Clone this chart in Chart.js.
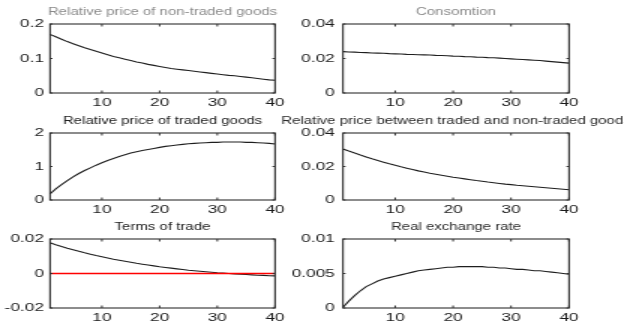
<!DOCTYPE html>
<html>
<head>
<meta charset="utf-8">
<script src="https://cdn.jsdelivr.net/npm/chart.js@4.4.1/dist/chart.umd.min.js"></script>
<style>
  html, body { margin: 0; padding: 0; background: #fff; }
  #stage { position: relative; width: 624px; height: 326px; overflow: hidden; background: #fff; }
  .panel { position: absolute; left: 0; top: 0; width: 416px; height: 326px;
           transform: scaleX(1.5); transform-origin: 0 0; }
  .panel canvas { display: block; }
</style>
</head>
<body>
<div id="stage"></div>
<script>
// Horizon (quarters after the shock)
const periods = Array.from({ length: 40 }, (_, i) => i + 1);
const xTicks = [10, 20, 30, 40];

// Impulse responses
const nonTradedPrice = [0.170, 0.163, 0.156, 0.149, 0.143, 0.137, 0.131, 0.126, 0.121, 0.116,
  0.111, 0.106, 0.102, 0.098, 0.094, 0.090, 0.087, 0.083, 0.080, 0.077,
  0.074, 0.071, 0.069, 0.067, 0.065, 0.063, 0.061, 0.059, 0.057, 0.055,
  0.053, 0.051, 0.050, 0.048, 0.046, 0.044, 0.042, 0.040, 0.038, 0.037];

const consumption = [0.0240, 0.0238, 0.0237, 0.0235, 0.0234, 0.0232, 0.0231, 0.0230, 0.0228, 0.0227,
  0.0226, 0.0224, 0.0223, 0.0222, 0.0221, 0.0220, 0.0218, 0.0217, 0.0216, 0.0214,
  0.0213, 0.0211, 0.0210, 0.0208, 0.0207, 0.0205, 0.0204, 0.0202, 0.0200, 0.0198,
  0.0196, 0.0194, 0.0192, 0.0190, 0.0188, 0.0185, 0.0182, 0.0179, 0.0176, 0.0173];

const tradedPrice = [0.18, 0.33, 0.46, 0.58, 0.69, 0.79, 0.88, 0.96, 1.04, 1.11,
  1.18, 1.24, 1.30, 1.35, 1.40, 1.44, 1.48, 1.51, 1.54, 1.57,
  1.60, 1.62, 1.64, 1.66, 1.68, 1.69, 1.70, 1.71, 1.72, 1.72,
  1.73, 1.73, 1.73, 1.73, 1.72, 1.72, 1.71, 1.70, 1.69, 1.67];

const relativePrice = [0.0305, 0.0292, 0.0280, 0.0268, 0.0257, 0.0246, 0.0236, 0.0226, 0.0216, 0.0207,
  0.0198, 0.0190, 0.0182, 0.0174, 0.0167, 0.0160, 0.0154, 0.0148, 0.0142, 0.0136,
  0.0131, 0.0126, 0.0121, 0.0116, 0.0112, 0.0107, 0.0103, 0.0099, 0.0095, 0.0092,
  0.0088, 0.0085, 0.0082, 0.0079, 0.0076, 0.0073, 0.0070, 0.0067, 0.0064, 0.0061];

const termsOfTrade = [0.0178, 0.0167, 0.0157, 0.0147, 0.0138, 0.0129, 0.0120, 0.0112, 0.0104, 0.0097,
  0.0090, 0.0083, 0.0077, 0.0071, 0.0065, 0.0059, 0.0054, 0.0049, 0.0044, 0.0039,
  0.0035, 0.0031, 0.0027, 0.0023, 0.0019, 0.0016, 0.0013, 0.0010, 0.0007, 0.0004,
  0.0002, 0.0000, -0.0002, -0.0004, -0.0006, -0.0008, -0.0010, -0.0011, -0.0013, -0.0014];

const realExchangeRate = [0.0001, 0.0010, 0.0018, 0.0025, 0.0031, 0.0035, 0.0039, 0.0042, 0.0044, 0.0046,
  0.0048, 0.0050, 0.0052, 0.0054, 0.0055, 0.0056, 0.0057, 0.0058, 0.0059, 0.0059,
  0.0060, 0.0060, 0.0060, 0.0060, 0.0060, 0.0059, 0.0059, 0.0058, 0.0058, 0.0057,
  0.0056, 0.0056, 0.0055, 0.0054, 0.0054, 0.0053, 0.0052, 0.0051, 0.0050, 0.0049];

// Zero reference for the terms of trade panel
const zeroLevel = [0, 0];

// Y-axis tick labels per panel
const ticksNonTraded = [0, 0.1, 0.2];
const ticksConsumption = [0, 0.02, 0.04];
const ticksTraded = [0, 1, 2];
const ticksRelative = [0, 0.02, 0.04];
const ticksTerms = [-0.02, 0, 0.02];
const ticksRer = [0, 0.005, 0.01];

const titles = [
  'Relative price of non-traded goods',
  'Consomtion',
  'Relative price of traded goods',
  'Relative price between traded and non-traded goods',
  'Terms of trade',
  'Real exchange rate'
];

// Panel frames in canvas units (canvas is stretched 1.5x horizontally on screen)
const colLeft = [33.33, 228.67];
const colRight = [183.33, 379.33];
const colAxisW = [33.33, 60];
const colLabelGap = [4, 5.5];
const rowTop = [24, 133, 239];
const rowBottom = [93, 200, 308];
const X_AXIS_H = 16;
const CANVAS_W = 416;
const CANVAS_H = 326;

const FONT_FAMILY = '"Liberation Sans", Arial, Helvetica, sans-serif';

// Frame box, inward ticks and title
const framePlugin = {
  id: 'matlabFrame',
  afterDatasetsDraw(chart, args, opts) {
    const { ctx, chartArea: a, scales } = chart;
    ctx.save();
    ctx.strokeStyle = '#1a1a1a';
    ctx.lineWidth = 1;
    ctx.strokeRect(a.left, a.top, a.right - a.left, a.bottom - a.top);
    ctx.strokeStyle = '#333';
    ctx.beginPath();
    scales.x.ticks.forEach(t => {
      const px = scales.x.getPixelForValue(t.value);
      ctx.moveTo(px, a.bottom); ctx.lineTo(px, a.bottom - 2.5);
      ctx.moveTo(px, a.top); ctx.lineTo(px, a.top + 2.5);
    });
    scales.y.ticks.forEach(t => {
      const py = scales.y.getPixelForValue(t.value);
      ctx.moveTo(a.left, py); ctx.lineTo(a.left + 1.7, py);
      ctx.moveTo(a.right, py); ctx.lineTo(a.right - 1.7, py);
    });
    ctx.stroke();
    ctx.fillStyle = opts.color;
    ctx.font = '10px ' + FONT_FAMILY;
    ctx.textAlign = 'center';
    ctx.textBaseline = 'middle';
    ctx.fillText(opts.text, (a.left + a.right) / 2, a.top - 12);
    ctx.restore();
  }
};

function makePanel(idx, values, yTicks, titleColor, zeroLine) {
  const col = idx % 2, row = Math.floor(idx / 2);
  const wrap = document.createElement('div');
  wrap.className = 'panel';
  const canvas = document.createElement('canvas');
  canvas.width = CANVAS_W;
  canvas.height = CANVAS_H;
  wrap.appendChild(canvas);
  document.getElementById('stage').appendChild(wrap);

  const datasets = [{
    label: 'response',
    data: periods.map((p, i) => ({ x: p, y: values[i] })),
    borderColor: '#1e1e1e', borderWidth: 1.1, pointRadius: 0, tension: 0, order: 2
  }];
  if (zeroLine) {
    datasets.push({
      label: 'zero',
      data: [{ x: periods[0], y: zeroLevel[0] }, { x: periods[periods.length - 1], y: zeroLevel[1] }],
      borderColor: '#ff0000', backgroundColor: '#ff0000',
      borderWidth: 1.4, pointRadius: 0, tension: 0, order: 1
    });
  }

  new Chart(canvas, {
    type: 'line',
    data: { datasets },
    options: {
      responsive: false,
      animation: false,
      devicePixelRatio: 1,
      events: [],
      layout: {
        padding: {
          left: colLeft[col] - colAxisW[col],
          right: CANVAS_W - colRight[col],
          top: rowTop[row],
          bottom: CANVAS_H - rowBottom[row] - X_AXIS_H
        }
      },
      plugins: {
        legend: { display: false },
        tooltip: { enabled: false },
        matlabFrame: { text: titles[idx], color: titleColor }
      },
      scales: {
        x: {
          type: 'linear', min: 1, max: 40,
          grid: { display: false, drawTicks: false },
          border: { display: false },
          afterBuildTicks: s => { s.ticks = xTicks.map(v => ({ value: v })); },
          afterFit: s => { s.height = X_AXIS_H; },
          ticks: {
            color: '#1a1a1a', padding: 3, maxRotation: 0, autoSkip: false,
            font: { family: FONT_FAMILY, size: 11.5 },
            callback: v => String(v)
          }
        },
        y: {
          type: 'linear', min: yTicks[0], max: yTicks[yTicks.length - 1],
          grid: { display: false, drawTicks: false },
          border: { display: false },
          afterBuildTicks: s => { s.ticks = yTicks.map(v => ({ value: v })); },
          afterFit: s => { s.width = colAxisW[col]; },
          ticks: {
            color: '#1a1a1a', padding: colLabelGap[col], autoSkip: false,
            font: { family: FONT_FAMILY, size: 11.5 },
            callback: v => String(v)
          }
        }
      }
    },
    plugins: [framePlugin]
  });
}

makePanel(0, nonTradedPrice, ticksNonTraded, '#8a8a8a', false);
makePanel(1, consumption, ticksConsumption, '#8a8a8a', false);
makePanel(2, tradedPrice, ticksTraded, '#222', false);
makePanel(3, relativePrice, ticksRelative, '#2a2a2a', false);
makePanel(4, termsOfTrade, ticksTerms, '#222', true);
makePanel(5, realExchangeRate, ticksRer, '#2a2a2a', false);
</script>
</body>
</html>
